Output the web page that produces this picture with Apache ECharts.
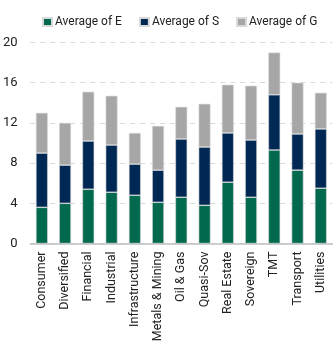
<!DOCTYPE html>
<html>
<head>
<meta charset="utf-8">
<script src="https://cdn.jsdelivr.net/npm/echarts@6/dist/echarts.min.js"></script>
<style>
  html, body { margin: 0; padding: 0; background: #fff; }
  #chart { width: 335px; height: 349px; }
</style>
</head>
<body>
<div id="chart"></div>
<script>
// Sector categories along the x axis
const categories = ['Consumer', 'Diversified', 'Financial', 'Industrial', 'Infrastructure',
  'Metals & Mining', 'Oil & Gas', 'Quasi-Sov', 'Real Estate', 'Sovereign', 'TMT',
  'Transport', 'Utilities'];

// Stacked component averages per sector
const avgE = [3.6, 4.0, 5.4, 5.1, 4.8, 4.1, 4.6, 3.8, 6.1, 4.6, 9.3, 7.3, 5.5];
const avgS = [5.4, 3.8, 4.8, 4.7, 3.1, 3.2, 5.8, 5.8, 4.9, 5.7, 5.5, 3.6, 5.9];
const avgG = [4.0, 4.2, 4.9, 4.9, 3.1, 4.4, 3.2, 4.3, 4.8, 5.4, 4.2, 5.1, 3.6];

const seriesNames = ['Average of E', 'Average of S', 'Average of G'];
const yTicks = [0, 4, 8, 12, 16, 20];

const colors = ['#00694e', '#002855', '#a6a6a6'];
const font = 'Roboto, "Liberation Sans", sans-serif';

const chart = echarts.init(document.getElementById('chart'), null, { renderer: 'canvas' });

const makeSeries = (name, data, color) => ({
  name: name,
  type: 'bar',
  stack: 'total',
  data: data,
  barWidth: '51%',
  itemStyle: { color: color, borderColor: '#d9d9d9', borderWidth: 0.6 }
});

chart.setOption({
  animation: false,
  color: colors,
  textStyle: { fontFamily: font },
  legend: {
    top: 11,
    left: 37,
    itemWidth: 9,
    itemHeight: 8,
    itemGap: 17,
    icon: 'rect',
    textStyle: { fontSize: 12, color: '#222', fontFamily: font, padding: [0, 0, 0, -2] },
    data: seriesNames
  },
  grid: { left: 27.6, right: 2.6, top: 42.5, bottom: 105.5, containLabel: false },
  xAxis: {
    type: 'category',
    data: categories,
    axisLine: { lineStyle: { color: '#bfbfbf', width: 1.5 } },
    axisTick: { show: false },
    axisLabel: { rotate: 90, interval: 0, margin: 8, fontSize: 12.5, color: '#222', fontFamily: font }
  },
  yAxis: {
    type: 'value',
    min: yTicks[0],
    max: yTicks[yTicks.length - 1],
    interval: yTicks[1] - yTicks[0],
    axisLine: { show: false },
    axisTick: { show: false },
    axisLabel: { margin: 12.6, fontSize: 13, color: '#222', fontFamily: font },
    splitLine: { lineStyle: { color: '#d9d9d9', type: [5, 5], width: 1 } }
  },
  series: [
    makeSeries(seriesNames[0], avgE, colors[0]),
    makeSeries(seriesNames[1], avgS, colors[1]),
    makeSeries(seriesNames[2], avgG, colors[2])
  ]
});
</script>
</body>
</html>
